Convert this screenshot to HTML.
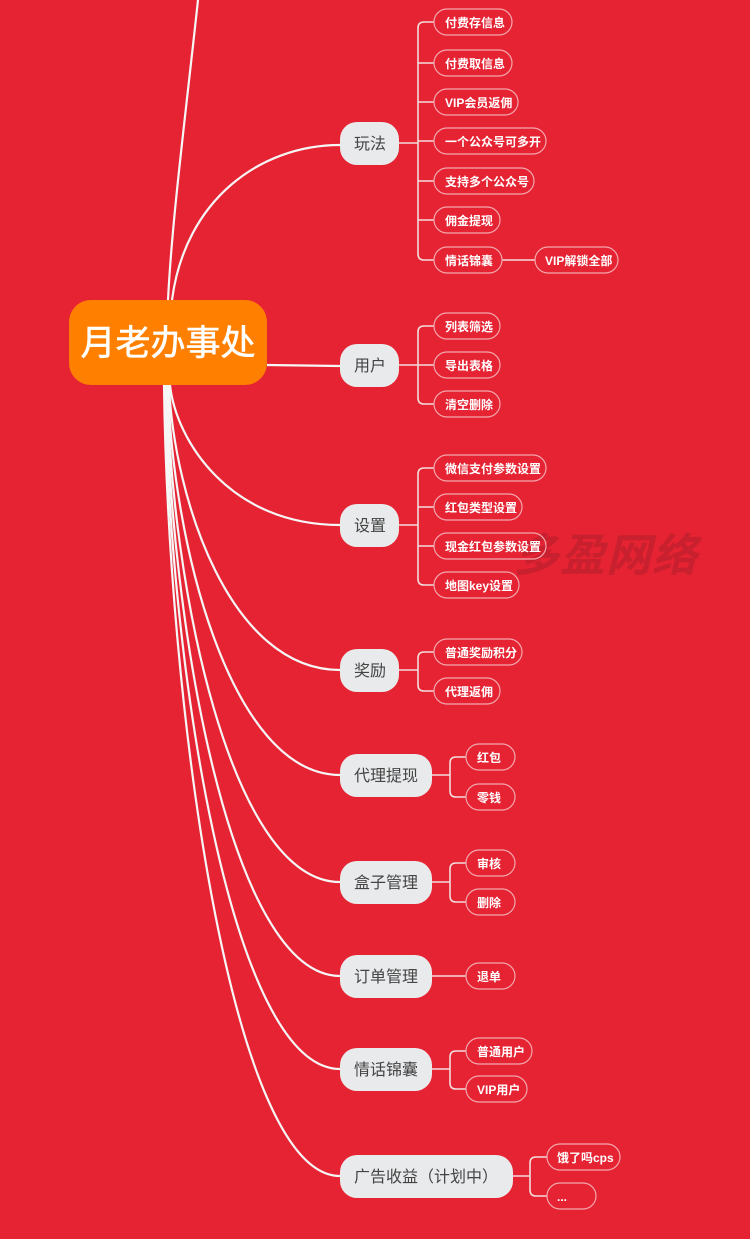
<!DOCTYPE html>
<html><head><meta charset="utf-8"><style>
html,body{margin:0;padding:0;background:#e52332;}
svg{display:block}
text{font-family:"Liberation Sans","Noto Sans CJK SC",sans-serif}
.leaf{fill:none;stroke:#f4a7ae;stroke-width:1.2}
.lt{fill:#fff;font-size:12px;font-weight:bold}
.br{fill:#e9eaeb}
.bt{fill:#444;font-size:16px}
.ln{fill:none;stroke:#f6f6f6;stroke-width:2.2}
.cn{fill:none;stroke:#f3dcdc;stroke-width:1.6}
</style></head><body>
<svg width="750" height="1239" viewBox="0 0 750 1239" xmlns="http://www.w3.org/2000/svg">
<rect width="750" height="1239" fill="#e52332"/>
<text x="514" y="571" font-size="45" font-weight="bold" font-style="italic" fill="#c4202e" opacity="0.85" style="letter-spacing:1px">多盈网络</text>

<path class="ln" d="M198,0 C185,120 172,220 168,300"/>
<path class="ln" d="M172,300 C185,200 260,145 340,145"/>
<path class="ln" d="M267,365 L340,366"/>
<path class="ln" d="M170,385 C176,441 230,525 340,525"/>
<path class="ln" d="M169,385 C174,499 230,670 340,670"/>
<path class="ln" d="M168,385 C172,541 230,775 340,775"/>
<path class="ln" d="M167,385 C171,584 230,882 340,882"/>
<path class="ln" d="M166,385 C170,621 230,976 340,976"/>
<path class="ln" d="M165,385 C169,659 230,1069 340,1069"/>
<path class="ln" d="M164,385 C168,701 230,1176 340,1176"/>

<rect x="69" y="300" width="198" height="85" rx="22" fill="#ff8000"/>
<text x="168" y="355" font-size="35" fill="#fff" text-anchor="middle" stroke="#fff" stroke-width="0.6">月老办事处</text>

<path class="cn" d="M399,143 L418,143 M434,22 L424,22 Q418,22 418,28 L418,254 Q418,260 424,260 L434,260 M418,63 L434,63 M418,102 L434,102 M418,141 L434,141 M418,181 L434,181 M418,220 L434,220 M502,260 L535,260"/>
<path class="cn" d="M399,365 L418,365 M434,326 L424,326 Q418,326 418,332 L418,398 Q418,404 424,404 L434,404 M418,365 L434,365"/>
<path class="cn" d="M399,525 L418,525 M434,468 L424,468 Q418,468 418,474 L418,579 Q418,585 424,585 L434,585 M418,507 L434,507 M418,546 L434,546"/>
<path class="cn" d="M399,670 L418,670 M434,652 L424,652 Q418,652 418,658 L418,685 Q418,691 424,691 L434,691"/>
<path class="cn" d="M432,775 L450,775 M466,757 L456,757 Q450,757 450,763 L450,791 Q450,797 456,797 L466,797"/>
<path class="cn" d="M432,882 L450,882 M466,863 L456,863 Q450,863 450,869 L450,896 Q450,902 456,902 L466,902"/>
<path class="cn" d="M432,976 L466,976"/>
<path class="cn" d="M432,1069 L450,1069 M466,1051 L456,1051 Q450,1051 450,1057 L450,1083 Q450,1089 456,1089 L466,1089"/>
<path class="cn" d="M513,1176 L530,1176 M547,1157 L536,1157 Q530,1157 530,1163 L530,1190 Q530,1196 536,1196 L547,1196"/>

<rect class="br" x="340" y="122" width="59" height="43" rx="17"/><text class="bt" x="354" y="149">玩法</text>
<rect class="br" x="340" y="344" width="59" height="43" rx="17"/><text class="bt" x="354" y="371">用户</text>
<rect class="br" x="340" y="504" width="59" height="43" rx="17"/><text class="bt" x="354" y="531">设置</text>
<rect class="br" x="340" y="649" width="59" height="43" rx="17"/><text class="bt" x="354" y="676">奖励</text>
<rect class="br" x="340" y="754" width="92" height="43" rx="17"/><text class="bt" x="354" y="781">代理提现</text>
<rect class="br" x="340" y="861" width="92" height="43" rx="17"/><text class="bt" x="354" y="888">盒子管理</text>
<rect class="br" x="340" y="955" width="92" height="43" rx="17"/><text class="bt" x="354" y="982">订单管理</text>
<rect class="br" x="340" y="1048" width="92" height="43" rx="17"/><text class="bt" x="354" y="1075">情话锦囊</text>
<rect class="br" x="340" y="1155" width="173" height="43" rx="17"/><text class="bt" x="354" y="1182">广告收益（计划中）</text>

<g>
<rect class="leaf" x="434" y="9" width="78" height="26" rx="13"/><text class="lt" x="445" y="27">付费存信息</text>
<rect class="leaf" x="434" y="50" width="78" height="26" rx="13"/><text class="lt" x="445" y="68">付费取信息</text>
<rect class="leaf" x="434" y="89" width="84" height="26" rx="13"/><text class="lt" x="445" y="107">VIP会员返佣</text>
<rect class="leaf" x="434" y="128" width="112" height="26" rx="13"/><text class="lt" x="445" y="146">一个公众号可多开</text>
<rect class="leaf" x="434" y="168" width="100" height="26" rx="13"/><text class="lt" x="445" y="186">支持多个公众号</text>
<rect class="leaf" x="434" y="207" width="66" height="26" rx="13"/><text class="lt" x="445" y="225">佣金提现</text>
<rect class="leaf" x="434" y="247" width="68" height="26" rx="13"/><text class="lt" x="445" y="265">情话锦囊</text>
<rect class="leaf" x="535" y="247" width="83" height="26" rx="13"/><text class="lt" x="545" y="265">VIP解锁全部</text>

<rect class="leaf" x="434" y="313" width="66" height="26" rx="13"/><text class="lt" x="445" y="331">列表筛选</text>
<rect class="leaf" x="434" y="352" width="66" height="26" rx="13"/><text class="lt" x="445" y="370">导出表格</text>
<rect class="leaf" x="434" y="391" width="66" height="26" rx="13"/><text class="lt" x="445" y="409">清空删除</text>

<rect class="leaf" x="434" y="455" width="112" height="26" rx="13"/><text class="lt" x="445" y="473">微信支付参数设置</text>
<rect class="leaf" x="434" y="494" width="88" height="26" rx="13"/><text class="lt" x="445" y="512">红包类型设置</text>
<rect class="leaf" x="434" y="533" width="112" height="26" rx="13"/><text class="lt" x="445" y="551">现金红包参数设置</text>
<rect class="leaf" x="434" y="572" width="85" height="26" rx="13"/><text class="lt" x="445" y="590">地图key设置</text>

<rect class="leaf" x="434" y="639" width="88" height="26" rx="13"/><text class="lt" x="445" y="657">普通奖励积分</text>
<rect class="leaf" x="434" y="678" width="66" height="26" rx="13"/><text class="lt" x="445" y="696">代理返佣</text>

<rect class="leaf" x="466" y="744" width="49" height="26" rx="13"/><text class="lt" x="477" y="762">红包</text>
<rect class="leaf" x="466" y="784" width="49" height="26" rx="13"/><text class="lt" x="477" y="802">零钱</text>
<rect class="leaf" x="466" y="850" width="49" height="26" rx="13"/><text class="lt" x="477" y="868">审核</text>
<rect class="leaf" x="466" y="889" width="49" height="26" rx="13"/><text class="lt" x="477" y="907">删除</text>
<rect class="leaf" x="466" y="963" width="49" height="26" rx="13"/><text class="lt" x="477" y="981">退单</text>
<rect class="leaf" x="466" y="1038" width="66" height="26" rx="13"/><text class="lt" x="477" y="1056">普通用户</text>
<rect class="leaf" x="466" y="1076" width="61" height="26" rx="13"/><text class="lt" x="477" y="1094">VIP用户</text>
<rect class="leaf" x="547" y="1144" width="73" height="26" rx="13"/><text class="lt" x="557" y="1162">饿了吗cps</text>
<rect class="leaf" x="547" y="1183" width="49" height="26" rx="13"/><text class="lt" x="557" y="1201">...</text>
</g>
</svg>
</body></html>
